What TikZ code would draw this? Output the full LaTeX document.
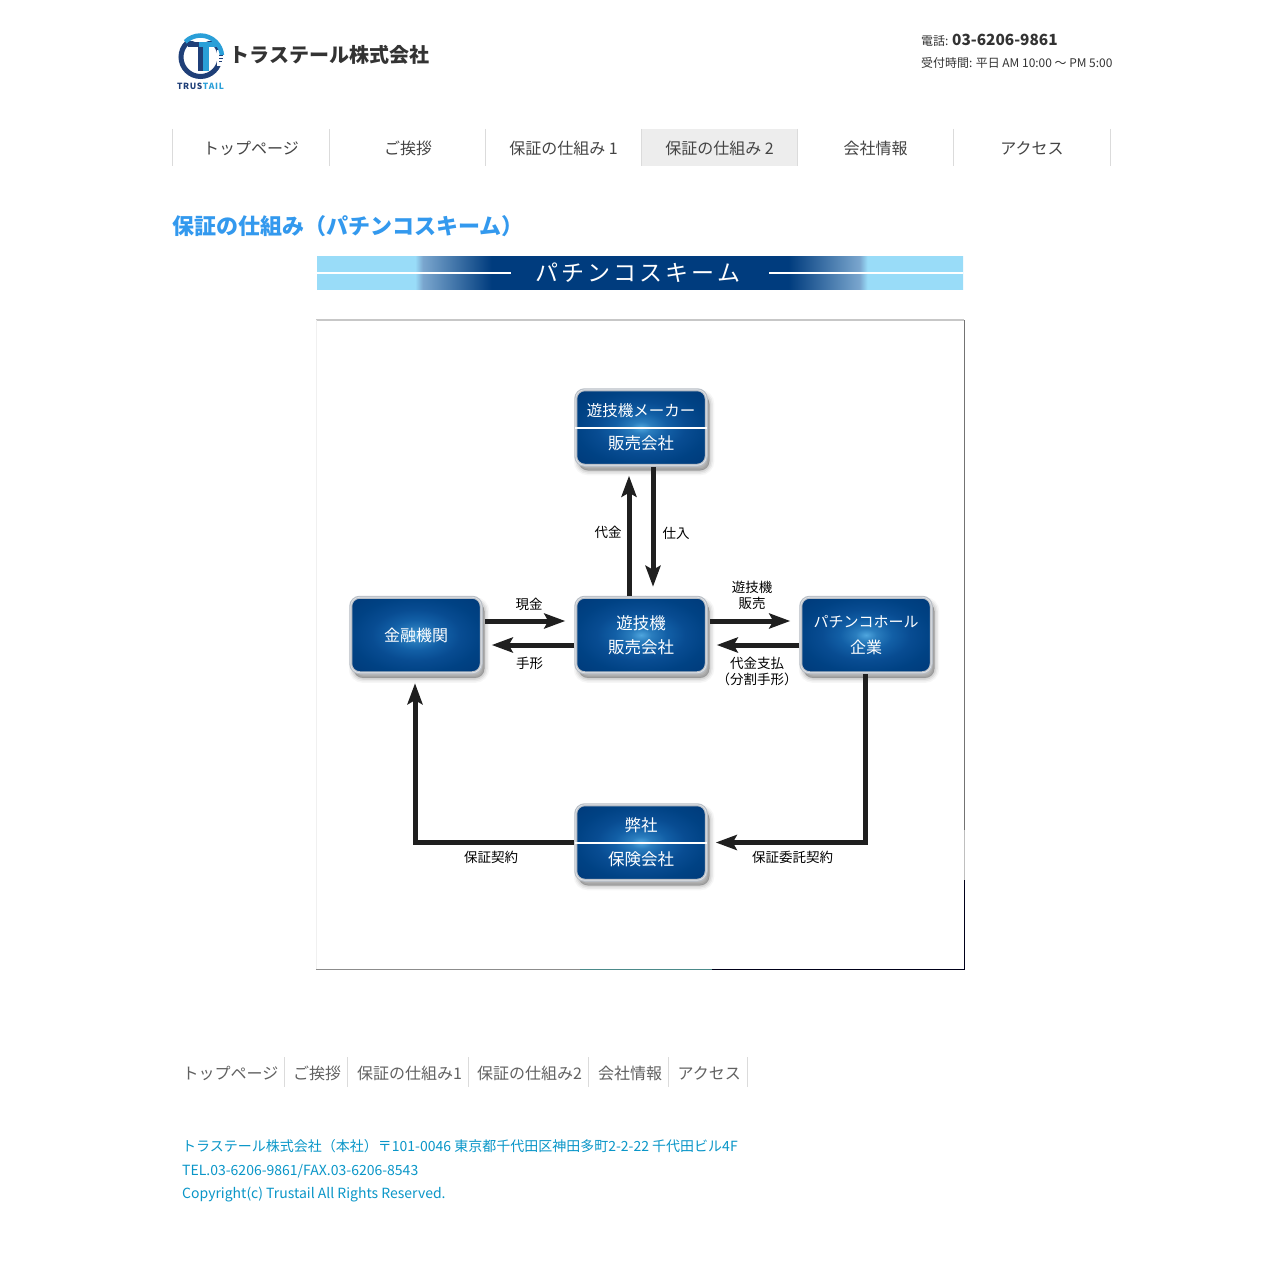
\documentclass[tikz,border=0pt]{standalone}
\usepackage{fontspec}
\setmainfont{Noto Sans CJK JP}
\usetikzlibrary{arrows.meta}
\newcommand{\fs}[1]{\fontsize{#1}{#1}\selectfont}
\definecolor{navtext}{HTML}{444444}
\definecolor{headblue}{HTML}{3399EE}
\definecolor{footblue}{HTML}{0A96C8}
\definecolor{bandlight}{HTML}{99DCF8}
\definecolor{bandmid}{HTML}{7AA6CE}
\definecolor{banddark}{HTML}{003C7E}
\definecolor{logonavy}{HTML}{1F3F78}
\definecolor{logoblue}{HTML}{2A9FD8}
\definecolor{frameedge}{HTML}{B8BEC6}
\definecolor{glowa}{HTML}{4FA6DE}
\definecolor{glowb}{HTML}{2A7DBE}
\definecolor{glowc}{HTML}{125FA6}
\definecolor{glowd}{HTML}{084C92}
\definecolor{glowe}{HTML}{004284}
\definecolor{glowf}{HTML}{003A7A}
\pgfdeclareradialshading{glow}{\pgfpoint{0bp}{0bp}}{%
  color(0bp)=(glowa);
  color(4bp)=(glowb);
  color(10bp)=(glowc);
  color(17bp)=(glowd);
  color(25bp)=(glowe);
  color(35bp)=(glowf);
  color(50bp)=(glowf)}
\pgfdeclarehorizontalshading{bandshade}{100bp}{%
  color(0bp)=(bandlight);
  color(32.6bp)=(bandlight);
  color(33.2bp)=(bandmid);
  color(38.5bp)=(banddark);
  color(61.5bp)=(banddark);
  color(67bp)=(bandmid);
  color(67.6bp)=(bandlight);
  color(100bp)=(bandlight)}
\tikzset{
  hallbox/.style={rectangle, rounded corners=9pt, minimum width=130.5pt, minimum height=75.5pt,
    inner sep=0pt, outer sep=1.5pt, draw=frameedge, line width=3pt, shading=glow, text=white,
    align=center, font=\fontsize{16.5}{25}\selectfont,
    preaction={draw=black, fill=black, line width=10pt, opacity=.035, transform canvas={xshift=3pt,yshift=-5pt}},
    preaction={draw=black, fill=black, line width=7pt, opacity=.05, transform canvas={xshift=3pt,yshift=-5pt}},
    preaction={draw=black, fill=black, line width=4pt, opacity=.07, transform canvas={xshift=3pt,yshift=-5pt}},
    preaction={draw=black, fill=black, line width=1pt, opacity=.10, transform canvas={xshift=3pt,yshift=-5pt}},
    postaction={draw=white, line width=.8pt, opacity=.55}},
  flow/.style={draw=black!88, line width=5pt, -{Stealth[length=21pt,width=15pt,inset=4pt]}},
  lab/.style={font=\fontsize{13.5}{16}\selectfont, text=black, align=center, inner sep=0pt},
  nav/.style={font=\fs{16}, text=navtext, inner sep=0pt},
  sep/.style={draw=black!14, line width=.8pt},
  foot/.style={font=\fs{16}, text=black!62, anchor=west, inner sep=0pt},
  addr/.style={font=\fs{14}, text=footblue, anchor=west, inner sep=0pt},
  divider/.style={draw=white, line width=2pt, shorten >=1pt, shorten <=1pt}
}
\begin{document}
\begin{tikzpicture}[x=1pt,y=-1pt]
\useasboundingbox[fill=white] (0,0) rectangle (1284,1271);
% logo
\draw[logonavy, line width=5pt] (200.5,57) circle (19.5);
\fill[white] (217,50) rectangle (226,66);
\fill[white] (186,36) rectangle (220,41);
\draw[logoblue, line width=4.5pt] (185.3,41.8) arc[start angle=135, end angle=5, radius=21.5pt];
\fill[logoblue] (199,42.5) rectangle (218,47);
\fill[logonavy] (188,42.5) rectangle (199,47);
\fill[logonavy] (197.5,47) rectangle (203,71);
\fill[logoblue] (203,47) rectangle (209,71);
\fill[logonavy] (219,55) rectangle (223,56);
\fill[logonavy] (219,58) rectangle (223,59);
\fill[logonavy] (219,61) rectangle (222,62);
\node[font=\bfseries\fs{8.5}, text=logonavy, inner sep=0pt] (logotxt) at (200.5,86) {T\hspace{.6pt}R\hspace{.6pt}U\hspace{.6pt}S\hspace{.6pt}\textcolor{logoblue}{T\hspace{.6pt}A\hspace{.6pt}I\hspace{.6pt}L}};
\node[font=\bfseries\fs{20}, text=black!80, anchor=west, inner sep=0pt] (company) at (229.5,54.5) {トラステール株式会社};
\node[anchor=west, inner sep=0pt, text=black!80] (tel) at (921,40) {\fs{12}電話: \bfseries\fs{15.4}03-6206-9861};
\node[anchor=west, inner sep=0pt, text=black!80, font=\fs{11.95}] (hours) at (921,63) {受付時間: 平日 AM 10:00 〜 PM 5:00};
% nav
\fill[black!7] (642,129) rectangle (798,166);
\foreach \x in {172,329,485,641,797,953,1110} \draw[sep] (\x,129) -- (\x,166);
\node[nav] (n1) at (251,148) {トップページ};
\node[nav] (n2) at (408,148) {ご挨拶};
\node[nav] (n3) at (563.5,148) {保証の仕組み 1};
\node[nav] (n4) at (719.5,148) {保証の仕組み 2};
\node[nav] (n5) at (875.5,148) {会社情報};
\node[nav] (n6) at (1032,148) {アクセス};
\node[font=\bfseries\fs{22}, text=headblue, anchor=west, inner sep=0pt] (heading) at (172,226) {保証の仕組み（パチンコスキーム）};
% banner
\shade[shading=bandshade] (317,256) rectangle (963,289.6);
\draw[white, line width=1.5pt] (317,273) -- (511,273);
\draw[white, line width=1.5pt] (769,273) -- (963,273);
\node[font=\fs{23}, text=white, inner sep=0pt] (bantitle) at (638,273) {パ\hspace{3pt}チ\hspace{3pt}ン\hspace{3pt}コ\hspace{3pt}ス\hspace{3pt}キ\hspace{3pt}ー\hspace{3pt}ム};
% diagram frame
\draw[black!22, line width=1.5pt] (316,320) -- (964,320);
\draw[black!6, line width=1pt] (316,320) -- (316,969);
\draw[black!55, line width=1pt] (964.5,320) -- (964.5,830);
\draw[black!25, line width=1pt] (964.5,830) -- (964.5,880);
\draw[black!90!blue, line width=1.2pt] (964.5,880) -- (964.5,969.5);
\draw[black!45, line width=1.2pt] (316,969.5) -- (580,969.5);
\draw[teal!70!black, line width=1.2pt, opacity=.7] (580,969.5) -- (712,969.5);
\draw[black!90!blue, line width=1.2pt] (712,969.5) -- (964.5,969.5);
% boxes
\node[hallbox, font=\fontsize{16.5}{33}\selectfont] (maker) at (641,427.5) {{\fontsize{15.5}{33}\selectfont 遊技機メーカー}\\販売会社};
\node[hallbox, font=\fontsize{16.5}{24}\selectfont] (sales) at (641,635) {遊技機\\販売会社};
\node[hallbox, font=\fontsize{16}{25}\selectfont] (bank) at (416,635) {金融機関};
\node[hallbox, font=\fontsize{16}{26}\selectfont] (hall) at (866,635) {{\fontsize{15}{26}\selectfont パチンコホール}\\企業};
\node[hallbox, font=\fontsize{16.5}{34}\selectfont] (ins) at (641,842.5) {弊社\\保険会社};
\draw[divider] (maker.west) -- (maker.east);
\draw[divider] (ins.west) -- (ins.east);
% connectors
\draw[flow] ([xshift=-12pt]sales.north) -- ([xshift=-12pt,yshift=-9pt]maker.south);
\draw[flow] ([xshift=12pt]maker.south) -- ([xshift=12pt,yshift=9pt]sales.north);
\draw[flow] ([yshift=14pt,xshift=2pt]bank.east) -- ([yshift=14pt,xshift=-9pt]sales.west);
\draw[flow] ([yshift=-10pt]sales.west) -- ([yshift=-10pt,xshift=9pt]bank.east);
\draw[flow] ([yshift=14pt,xshift=2pt]sales.east) -- ([yshift=14pt,xshift=-9pt]hall.west);
\draw[flow] ([yshift=-10pt]hall.west) -- ([yshift=-10pt,xshift=9pt]sales.east);
\draw[flow] ([xshift=-1pt]hall.south) |- ([xshift=8pt]ins.east);
\draw[flow] (ins.west) -| ([xshift=-1pt,yshift=-9pt]bank.south);
% labels
\node[lab] (l1) at (608,532) {代金};
\node[lab] (l2) at (676,533) {仕入};
\node[lab] (l3) at (529,604) {現金};
\node[lab] (l4) at (529.5,663) {手形};
\node[lab] (l5) at (752,595) {遊技機\\販売};
\node[lab] (l6) at (757,671) {代金支払\\（分割手形）};
\node[lab] (l7) at (491,857) {保証契約};
\node[lab] (l8) at (792.5,857) {保証委託契約};
% footer nav
\foreach \x in {284,347,468,588,668,747} \draw[sep] (\x,1057) -- (\x,1087);
\node[foot] (f1) at (182.5,1073) {トップページ};
\node[foot] (f2) at (293,1073) {ご挨拶};
\node[foot] (f3) at (357,1073) {保証の仕組み1};
\node[foot] (f4) at (477,1073) {保証の仕組み2};
\node[foot] (f5) at (598,1073) {会社情報};
\node[foot] (f6) at (677.5,1073) {アクセス};
\node[addr] (a1) at (182,1146) {トラステール株式会社（本社）〒101-0046 東京都千代田区神田多町2-2-22 千代田ビル4F};
\node[addr] (a2) at (182,1171) {TEL.03-6206-9861/FAX.03-6206-8543};
\node[addr] (a3) at (182,1195) {Copyright(c) Trustail All Rights Reserved.};
\end{tikzpicture}
\end{document}
